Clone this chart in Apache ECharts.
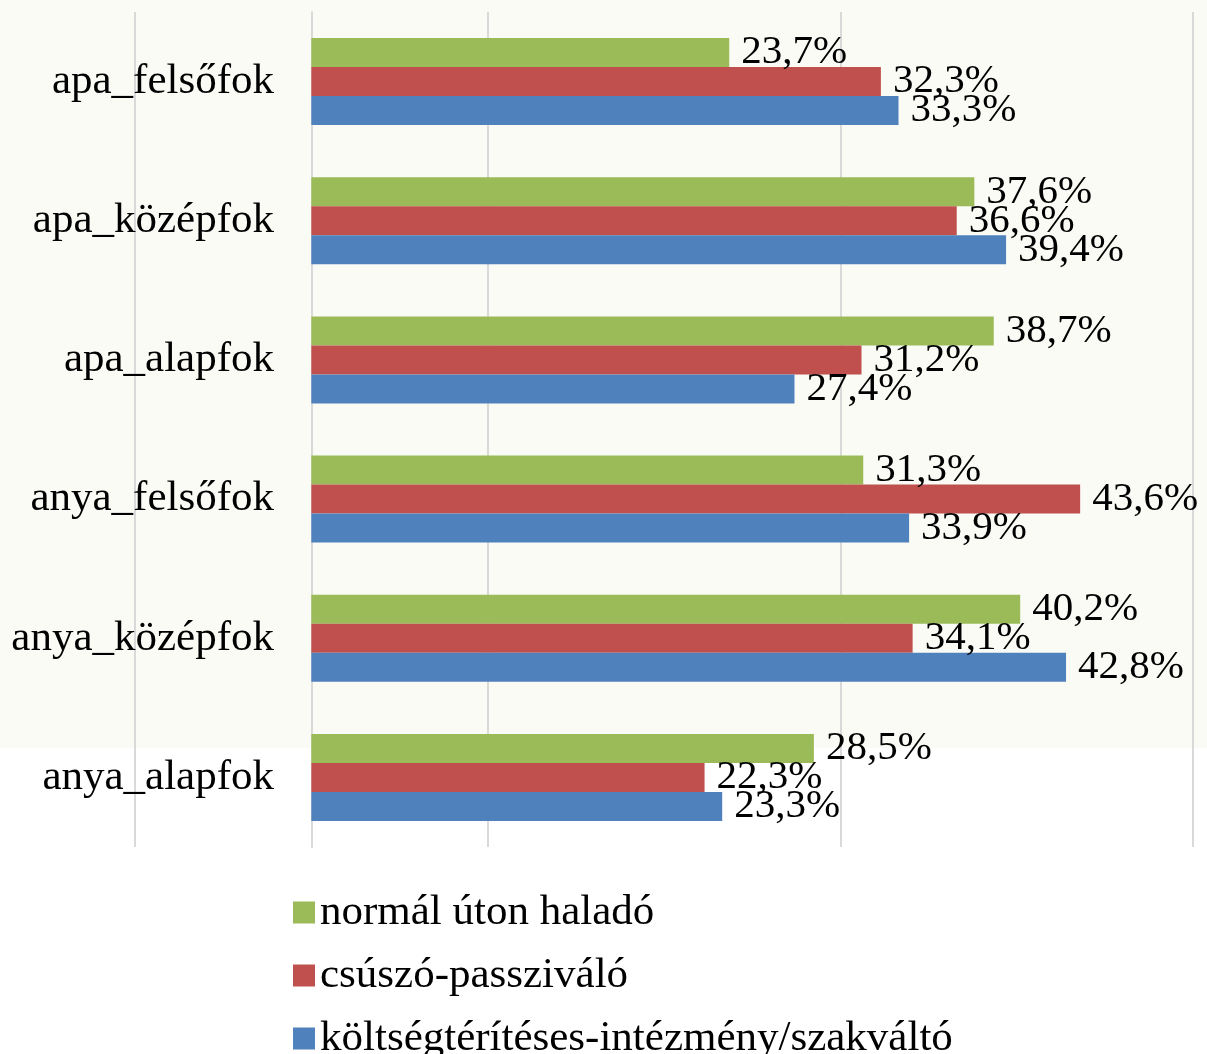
<!DOCTYPE html>
<html>
<head>
<meta charset="utf-8">
<script src="https://cdn.jsdelivr.net/npm/echarts@6/dist/echarts.min.js"></script>
<style>
  html, body { margin: 0; padding: 0; background: #fff; }
  #chart { width: 1207px; height: 1054px; }
</style>
</head>
<body>
<div id="chart"></div>
<script>
const categories = ['apa_felsőfok', 'apa_középfok', 'apa_alapfok', 'anya_felsőfok', 'anya_középfok', 'anya_alapfok']
const seriesNames = ['normál úton haladó', 'csúszó-passziváló', 'költségtérítéses-intézmény/szakváltó']
const normal = [23.7, 37.6, 38.7, 31.3, 40.2, 28.5]
const csuszo = [32.3, 36.6, 31.2, 43.6, 34.1, 22.3]
const koltseg = [33.3, 39.4, 27.4, 33.9, 42.8, 23.3]
const colors = ['#9bbb59', '#c0504d', '#4f81bd']

const font = '"Liberation Serif", "Times New Roman", serif'

const chart = echarts.init(document.getElementById('chart'))

// közös sáv beállítások
const makeSeries = (name, data, color) => ({
  name: name,
  type: 'bar',
  data: data,
  barGap: '0%',
  barCategoryGap: '37.5%',
  itemStyle: { color: color },
  label: {
    show: true,
    position: 'right',
    distance: 12,
    color: '#000',
    fontFamily: font,
    fontSize: 41,
    formatter: p => p.value.toFixed(1).replace('.', ',') + '%'
  }
})

chart.setOption({
  animation: false,
  graphic: [
    {
      type: 'rect',
      z: -10,
      silent: true,
      shape: { x: 0, y: 0, width: 1207, height: 748 },
      style: { fill: '#fbfbf6' }
    }
  ],
  grid: {
    left: 135,
    right: 14,
    top: 12,
    bottom: 207,
    containLabel: false,
    outerBoundsMode: 'none'
  },
  xAxis: {
    type: 'value',
    min: -10,
    max: 50,
    interval: 20,
    axisLabel: { show: false },
    axisLine: { show: false },
    axisTick: { show: false },
    splitLine: { lineStyle: { color: '#d9d9d9', width: 2 } }
  },
  yAxis: {
    type: 'category',
    inverse: true,
    data: categories,
    axisLine: { onZero: true, lineStyle: { color: '#d9d9d9', width: 2 } },
    axisTick: { show: false },
    axisLabel: {
      // a címkék a rács bal széléhez igazodnak, ezért toljuk őket a 0 vonalhoz
      margin: -139,
      color: '#000',
      fontFamily: font,
      fontSize: 43
    }
  },
  legend: {
    orient: 'vertical',
    left: 288,
    top: 886,
    height: 200,
    icon: 'rect',
    itemWidth: 22,
    itemHeight: 22,
    itemGap: 20,
    textStyle: {
      color: '#000',
      fontFamily: font,
      fontSize: 43,
      lineHeight: 40
    },
    data: seriesNames
  },
  series: [
    makeSeries(seriesNames[0], normal, colors[0]),
    makeSeries(seriesNames[1], csuszo, colors[1]),
    makeSeries(seriesNames[2], koltseg, colors[2])
  ]
})
</script>
</body>
</html>
